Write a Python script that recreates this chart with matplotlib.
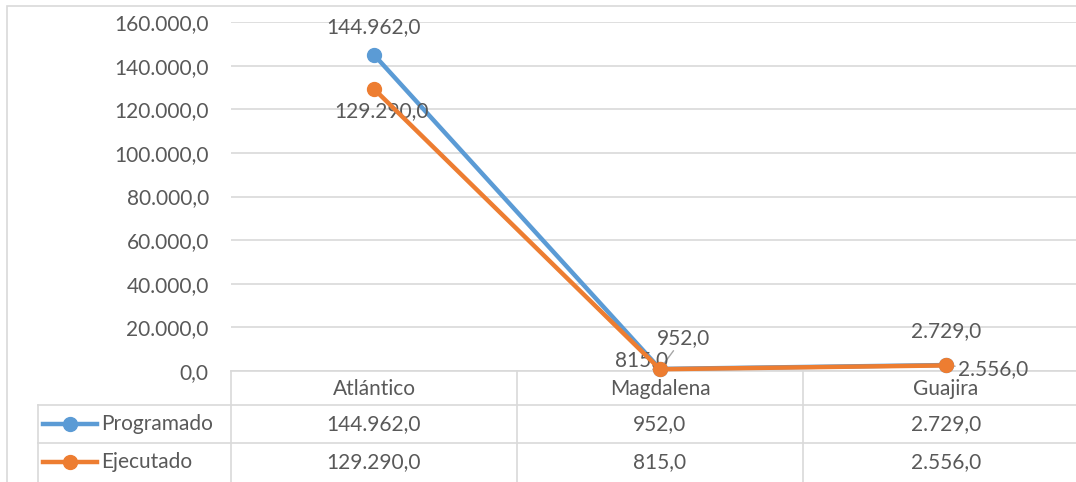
import matplotlib.pyplot as plt
from matplotlib.lines import Line2D
from matplotlib.patches import Rectangle
from matplotlib.ticker import FuncFormatter

# data
categorias = ['Atlántico', 'Magdalena', 'Guajira']
programado = [144962.0, 952.0, 2729.0]
ejecutado = [129290.0, 815.0, 2556.0]
series = ['Programado', 'Ejecutado']

AZUL = '#5B9BD5'
NARANJA = '#ED7D31'
GRIS = '#D9D9D9'
TEXTO = '#595959'

W, H = 1076, 482
plt.rcParams['font.family'] = ['Lato', 'DejaVu Sans']
FS = 15


def fmt(v):
    # spanish style: 144.962,0
    s = '{:,.1f}'.format(v)
    return s.replace(',', 'X').replace('.', ',').replace('X', '.')


def fx(px):
    return px / W


def fy(py):
    return 1 - py / H


fig = plt.figure(figsize=(W / 100, H / 100), dpi=100)

# chart border
fig.patches.append(Rectangle((fx(7), fy(490)), fx(1100), 484 / H, transform=fig.transFigure,
                             fill=False, edgecolor=GRIS, lw=1.2))

ax = fig.add_axes([fx(231), fy(371), fx(1089 - 231), (371 - 22) / H])
x = list(range(len(categorias)))

ax.plot(x, programado, color=AZUL, lw=3.2, marker='o', markersize=10, clip_on=False, zorder=3)
ax.plot(x, ejecutado, color=NARANJA, lw=3.2, marker='o', markersize=10, clip_on=False, zorder=4)

ax.set_xlim(-0.5, 2.5)
ax.set_ylim(0, 160000)
ax.set_yticks(range(0, 160001, 20000))
ax.yaxis.set_major_formatter(FuncFormatter(lambda v, p: fmt(v)))
ax.tick_params(axis='y', length=0, pad=16, labelsize=FS, labelcolor=TEXTO)
ax.set_xticks([])
ax.grid(axis='y', color=GRIS, lw=1.2)
ax.set_axisbelow(True)
for s in ['top', 'right', 'left']:
    ax.spines[s].set_visible(False)
ax.spines['bottom'].set_color(GRIS)
ax.spines['bottom'].set_linewidth(1.2)

# data labels
lbl = dict(fontsize=FS, color=TEXTO, textcoords='offset pixels', ha='center', va='center')
lead = dict(arrowstyle='-', color='#A6A6A6', lw=1, shrinkA=0, shrinkB=4)
ax.annotate(fmt(programado[0]), (0, programado[0]), xytext=(0, 28), **lbl)
ax.annotate(fmt(programado[1]), (1, programado[1]), xytext=(23, 31), arrowprops=lead, **lbl)
ax.annotate(fmt(programado[2]), (2, programado[2]), xytext=(0, 34), **lbl)
ax.annotate(fmt(ejecutado[0]), (0, ejecutado[0]), xytext=(8, -22), **lbl)
ax.annotate(fmt(ejecutado[1]), (1, ejecutado[1]), xytext=(-18, 9), **lbl)
ax.annotate(fmt(ejecutado[2]), (2, ejecutado[2]), xytext=(47, -4), arrowprops=lead, **lbl)


# data table below the axis
def hline(y, x0, x1):
    fig.add_artist(Line2D([fx(x0), fx(x1)], [fy(y), fy(y)], color=GRIS, lw=1.2))


def vline(xp, y0, y1):
    fig.add_artist(Line2D([fx(xp), fx(xp)], [fy(y0), fy(y1)], color=GRIS, lw=1.2))


hline(405, 38, 1100)
hline(443, 38, 1100)
vline(38, 405, 490)
for xp in [231, 517, 803]:
    vline(xp, 371, 490)

col_x = [374, 660, 946]
for cx, cat in zip(col_x, categorias):
    fig.text(fx(cx), fy(389), cat, fontsize=FS, color=TEXTO, ha='center', va='center')

filas = [(series[0], programado, AZUL, 424), (series[1], ejecutado, NARANJA, 462)]
for nombre, vals, col, yp in filas:
    fig.add_artist(Line2D([fx(43), fx(97)], [fy(yp), fy(yp)], color=col, lw=3.2))
    fig.add_artist(Line2D([fx(70)], [fy(yp)], color=col, marker='o', markersize=10))
    fig.text(fx(101), fy(yp), nombre, fontsize=FS, color=TEXTO, ha='left', va='center')
    for cx, v in zip(col_x, vals):
        fig.text(fx(cx), fy(yp), fmt(v), fontsize=FS, color=TEXTO, ha='center', va='center')

fig.savefig('out.png', dpi=100)
